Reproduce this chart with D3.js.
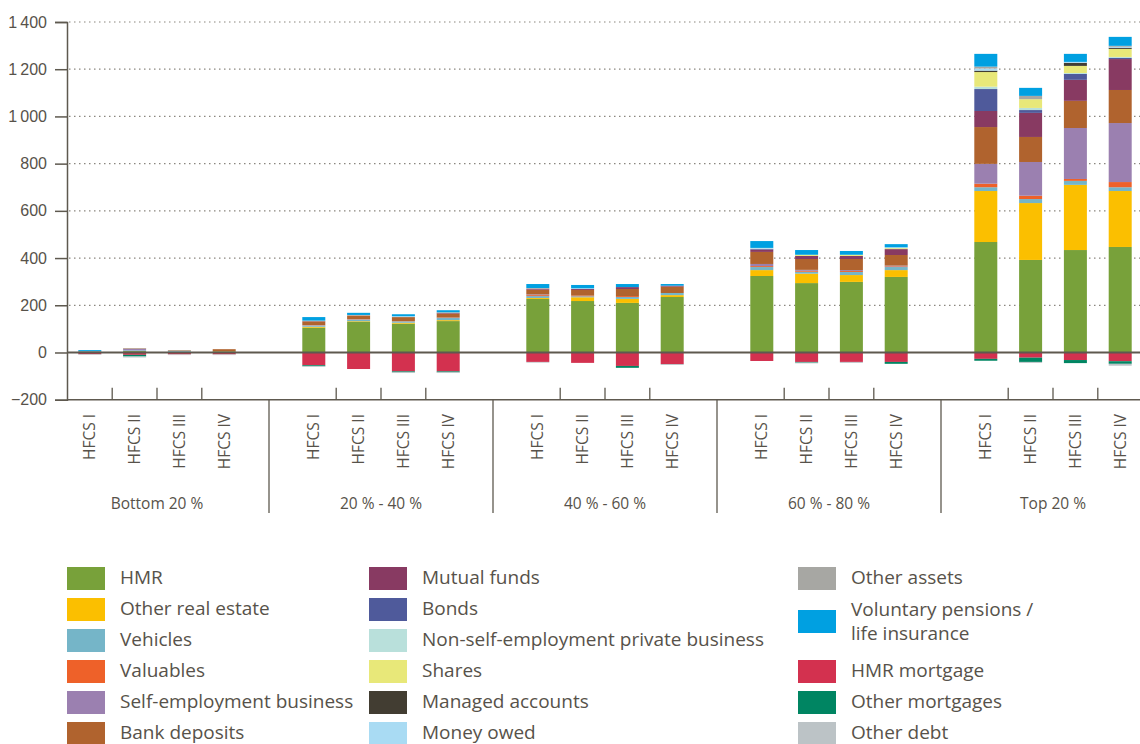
<!DOCTYPE html>
<head>
<meta charset="utf-8">
<title>Net wealth components by wealth quintile</title>
<style>
    body { margin:0; background:#fff; }
    svg { display:block; font-family:"Open Sans", sans-serif; }
    text { fill:#57524a; }
</style>
</head>
<body>
<svg width="1140" height="744"></svg>

<script src="https://cdnjs.cloudflare.com/ajax/libs/d3/7.8.5/d3.min.js"></script>
<script>
// groups and waves
var groups = ["Bottom 20 %", "20 % - 40 %", "40 % - 60 %", "60 % - 80 %", "Top 20 %"];
var waves = ["HFCS I", "HFCS II", "HFCS III", "HFCS IV"];
var yTicks = [-200, 0, 200, 400, 600, 800, 1000, 1200, 1400];

// one value per bar: 5 groups x 4 waves
var hmr          = [3, 6, 3, 5, 105, 131, 122, 133, 227, 218, 210, 235, 324, 294, 299, 320, 468, 392, 434, 447];
var otherRE      = [0, 0, 0, 0, 4, 2, 4, 4, 4, 16, 17, 8, 25, 40, 29, 29, 216, 241, 276, 237];
var vehicles     = [0, 3, 5, 0, 5, 6, 6, 9, 8, 4, 8, 9, 13, 8, 13, 13, 16, 17, 17, 16];
var valuables    = [0, 0, 0, 0, 1, 1, 1, 1, 4, 3, 4, 0, 4, 4, 4, 3, 15, 14, 8, 22];
var selfEmp      = [0, 6, 0, 0, 1, 1, 0, 1, 3, 0, 0, 0, 9, 4, 4, 3, 84, 143, 216, 250];
var deposits     = [2, 2, 2, 9, 16, 14, 17, 17, 20, 24, 30, 27, 51, 46, 47, 45, 156, 106, 115, 140];
var mutualFunds  = [0, 0, 0, 0, 1, 2, 0, 3, 4, 4, 8, 4, 10, 13, 13, 25, 68, 102, 89, 131];
var bonds        = [0, 0, 0, 0, 0, 0, 0, 0, 0, 0, 0, 0, 3, 0, 0, 0, 93, 12, 25, 5];
var nonSelfEmp   = [0, 0, 0, 0, 0, 0, 0, 0, 0, 0, 0, 0, 2, 0, 0, 0, 10, 9, 4, 4];
var shares       = [0, 0, 0, 0, 0, 1, 0, 1, 0, 0, 0, 0, 0, 5, 5, 4, 62, 37, 30, 34];
var managed      = [0, 0, 0, 0, 0, 0, 0, 0, 0, 0, 0, 0, 0, 0, 0, 0, 6, 0, 13, 5];
var moneyOwed    = [0, 0, 0, 0, 1, 0, 4, 0, 0, 3, 0, 0, 2, 0, 0, 4, 9, 0, 4, 4];
var otherAssets  = [0, 2, 0, 0, 1, 1, 0, 1, 3, 0, 0, 0, 0, 0, 0, 0, 8, 14, 0, 4];
var pensions     = [5, 0, 0, 0, 15, 9, 8, 9, 17, 14, 13, 7, 29, 20, 16, 13, 54, 34, 34, 38];
var hmrMortgage  = [-7, -10, -8, -8, -54, -70, -80, -80, -40, -44, -57, -49, -36, -40, -40, -40, -27, -22, -32, -37];
var otherMortg   = [0, -7, 0, 0, -4, 0, -4, -4, 0, 0, -8, 0, 0, -3, 0, -8, -8, -18, -13, -11];
var otherDebt    = [-3, -4, -3, -3, -3, 0, -3, -3, -3, 0, 0, -4, 0, -3, -4, 0, 0, -4, 0, -8];

var series = [
  {key:"HMR", values:hmr, color:"#78a13a"},
  {key:"Other real estate", values:otherRE, color:"#fbbf00"},
  {key:"Vehicles", values:vehicles, color:"#75b5c8"},
  {key:"Valuables", values:valuables, color:"#ee6129"},
  {key:"Self-employment business", values:selfEmp, color:"#9b80b0"},
  {key:"Bank deposits", values:deposits, color:"#b0632e"},
  {key:"Mutual funds", values:mutualFunds, color:"#883a62"},
  {key:"Bonds", values:bonds, color:"#4f5a9b"},
  {key:"Non-self-employment private business", values:nonSelfEmp, color:"#b9e0db"},
  {key:"Shares", values:shares, color:"#e8e879"},
  {key:"Managed accounts", values:managed, color:"#423d32"},
  {key:"Money owed", values:moneyOwed, color:"#a9dbf3"},
  {key:"Other assets", values:otherAssets, color:"#a7a7a3"},
  {key:"Voluntary pensions / life insurance", values:pensions, color:"#00a0e1"},
  {key:"HMR mortgage", values:hmrMortgage, color:"#d3314f"},
  {key:"Other mortgages", values:otherMortg, color:"#008562"},
  {key:"Other debt", values:otherDebt, color:"#bcc3c6"}
];

var svg = d3.select("svg");
var axisColor = "#5e594f";
var left = 67, right = 1140;

// table for d3.stack
var rows = [];
groups.forEach(function(g, gi){
  waves.forEach(function(w, wi){
    var r = {group:g, wave:w};
    series.forEach(function(s){ r[s.key] = s.values[gi*4 + wi]; });
    rows.push(r);
  });
});

var x0 = d3.scaleBand().domain(groups).range([45, 1165]);
var x1 = d3.scalePoint().domain(waves).range([0, x0.bandwidth()]).padding(1);
var y = d3.scaleLinear().domain([-200, 1400]).range([399.7, 22]);
var barW = 23;

// grid lines
svg.append("g").selectAll("line")
  .data(yTicks.filter(function(d){ return d > 0; }))
  .join("line")
  .attr("x1", left + 2).attr("x2", right)
  .attr("y1", function(d){ return y(d); }).attr("y2", function(d){ return y(d); })
  .attr("stroke", "#8a867f").attr("stroke-width", 1.2)
  .attr("stroke-dasharray", "1.5,3.5");

// bars
var stack = d3.stack()
  .keys(series.map(function(s){ return s.key; }))
  .offset(d3.stackOffsetDiverging);
var stacked = stack(rows);

svg.append("g").selectAll("g")
  .data(stacked)
  .join("g")
  .attr("fill", function(d, i){ return series[i].color; })
  .selectAll("rect")
  .data(function(d){ return d; })
  .join("rect")
  .attr("x", function(d){ return x0(d.data.group) + x1(d.data.wave) - barW/2; })
  .attr("width", barW)
  .attr("y", function(d){ return y(Math.max(d[0], d[1])); })
  .attr("height", function(d){ return Math.abs(y(d[0]) - y(d[1])); });

// zero line
svg.append("line")
  .attr("x1", left).attr("x2", right)
  .attr("y1", y(0)).attr("y2", y(0))
  .attr("stroke", axisColor).attr("stroke-width", 2);

// y axis
var yAxis = d3.axisLeft(y).tickValues(yTicks).tickSize(12).tickPadding(8)
  .tickFormat(function(d){ return d3.format(",")(d).replace(",", "\u2009").replace("-", "\u2212"); });
var ya = svg.append("g").attr("transform", "translate(" + left + ",0)").call(yAxis);
ya.select(".domain").attr("stroke", axisColor).attr("stroke-width", 1.5);
ya.selectAll(".tick line").attr("stroke", axisColor).attr("stroke-width", 1.5);
ya.selectAll("text").style("font-size", "16px").attr("fill", "#57524a");

// bottom line, ticks between waves, separators between groups
var base = y(-200);
svg.append("line").attr("x1", left).attr("x2", right).attr("y1", base).attr("y2", base)
  .attr("stroke", axisColor).attr("stroke-width", 1.5);

var between = [];
groups.forEach(function(g){
  for (var i = 0; i < 3; i++) between.push(x0(g) + (x1(waves[i]) + x1(waves[i+1])) / 2);
});
svg.append("g").selectAll("line").data(between).join("line")
  .attr("x1", function(d){ return d; }).attr("x2", function(d){ return d; })
  .attr("y1", base - 12).attr("y2", base)
  .attr("stroke", axisColor).attr("stroke-width", 1.3);

svg.append("g").selectAll("line").data(groups.slice(1)).join("line")
  .attr("x1", function(d){ return x0(d); }).attr("x2", function(d){ return x0(d); })
  .attr("y1", base).attr("y2", 513)
  .attr("stroke", axisColor).attr("stroke-width", 1.3);

// wave labels
svg.append("g").selectAll("text").data(rows).join("text")
  .attr("transform", function(d){ return "translate(" + (x0(d.group) + x1(d.wave)) + ",414) rotate(-90)"; })
  .attr("text-anchor", "end").attr("dy", "0.35em")
  .style("font-size", "15.5px")
  .text(function(d){ return d.wave; });

// group labels
svg.append("g").selectAll("text").data(groups).join("text")
  .attr("x", function(d){ return x0(d) + x0.bandwidth()/2; })
  .attr("y", 509)
  .attr("text-anchor", "middle")
  .style("font-size", "15.5px")
  .text(function(d){ return d; });

// legend
var colX = [67, 369, 798];
var col3Y = [567, 610, 660, 691, 722];
var lg = svg.append("g").selectAll("g").data(series).join("g")
  .attr("transform", function(d, i){
    var c = i < 12 ? Math.floor(i / 6) : 2;
    var yy = i < 12 ? 567 + 31 * (i % 6) : col3Y[i - 12];
    return "translate(" + colX[c] + "," + yy + ")";
  });
lg.append("rect").attr("width", 38).attr("height", 23)
  .attr("fill", function(d){ return d.color; });
lg.each(function(d){
  var g = d3.select(this);
  var lines = d.key.indexOf(" / ") > 0 ? ["Voluntary pensions /", "life insurance"] : [d.key];
  lines.forEach(function(l, li){
    g.append("text")
      .attr("x", 53)
      .attr("y", lines.length > 1 ? -1 + li * 24 : 10.5)
      .attr("dy", "0.35em")
      .style("font-size", "19px")
      .text(l);
  });
});
</script>
</body>
